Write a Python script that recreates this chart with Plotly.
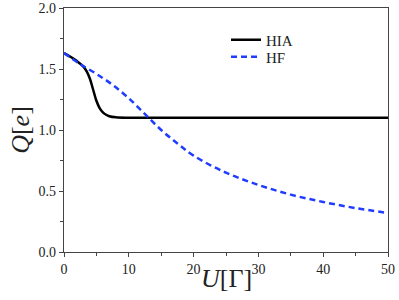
import plotly.graph_objects as go

U_hia = [0, 1, 2, 3, 3.5, 4, 4.5, 5, 5.5, 6, 6.5, 7, 8, 10, 15, 20, 30, 40, 50]
Q_hia = [1.63, 1.60, 1.565, 1.52, 1.48, 1.42, 1.33, 1.24, 1.18, 1.145, 1.125, 1.113, 1.104, 1.10, 1.10, 1.10, 1.10, 1.10, 1.10]

U_hf = [0, 2.5, 5, 7.5, 10, 12.5, 15, 17.5, 20, 25, 30, 35, 40, 45, 50]
Q_hf = [1.63, 1.54, 1.46, 1.37, 1.26, 1.13, 1.00, 0.89, 0.79, 0.65, 0.55, 0.47, 0.41, 0.36, 0.32]

font = "Liberation Serif, Times New Roman, serif"

fig = go.Figure()
fig.add_trace(go.Scatter(x=U_hia, y=Q_hia, mode="lines", name="HIA", legend="legend", showlegend=True,
                         line=dict(color="black", width=2.5, shape="spline")))
fig.add_trace(go.Scatter(x=U_hf, y=Q_hf, mode="lines", name="HF", legend="legend2", showlegend=True,
                         line=dict(color="#1f3cff", width=2.5, dash="6px,4px", shape="spline")))

axis_common = dict(showline=True, linecolor="#444", linewidth=1.3, mirror=True,
                   ticks="outside", ticklen=4, tickcolor="#444", showgrid=False,
                   zeroline=False, tickfont=dict(family=font, size=14, color="#222"))

fig.update_xaxes(range=[0, 50], dtick=10, **axis_common,
                 minor=dict(dtick=5, ticks="outside", ticklen=3, tickcolor="#444"))
fig.update_yaxes(range=[0, 2.0], dtick=0.5, tickformat=".1f", **axis_common,
                 minor=dict(dtick=0.25, ticks="outside", ticklen=3, tickcolor="#444"),
                 title=dict(text="<i>Q</i>[<i>e</i>]", font=dict(family=font, size=26, color="#222"), standoff=1))

fig.add_annotation(text="<i>U</i>[Γ]", xref="paper", yref="paper", x=0.5, y=-0.11,
                   xanchor="center", yanchor="middle", showarrow=False,
                   font=dict(family=font, size=26, color="#222"))

leg = dict(x=0.5, xanchor="left", yanchor="middle", bgcolor="rgba(0,0,0,0)",
           font=dict(family=font, size=15, color="#222"), itemwidth=30, visible=True)
fig.update_layout(width=399, height=300, margin=dict(l=64, r=11, t=8, b=48, autoexpand=False),
                  plot_bgcolor="white", paper_bgcolor="white", showlegend=True,
                  legend=dict(y=0.869, **leg), legend2=dict(y=0.799, **leg))
fig.write_html("out.html", config={"displayModeBar": False},
               post_script="document.body.style.margin='0';")
